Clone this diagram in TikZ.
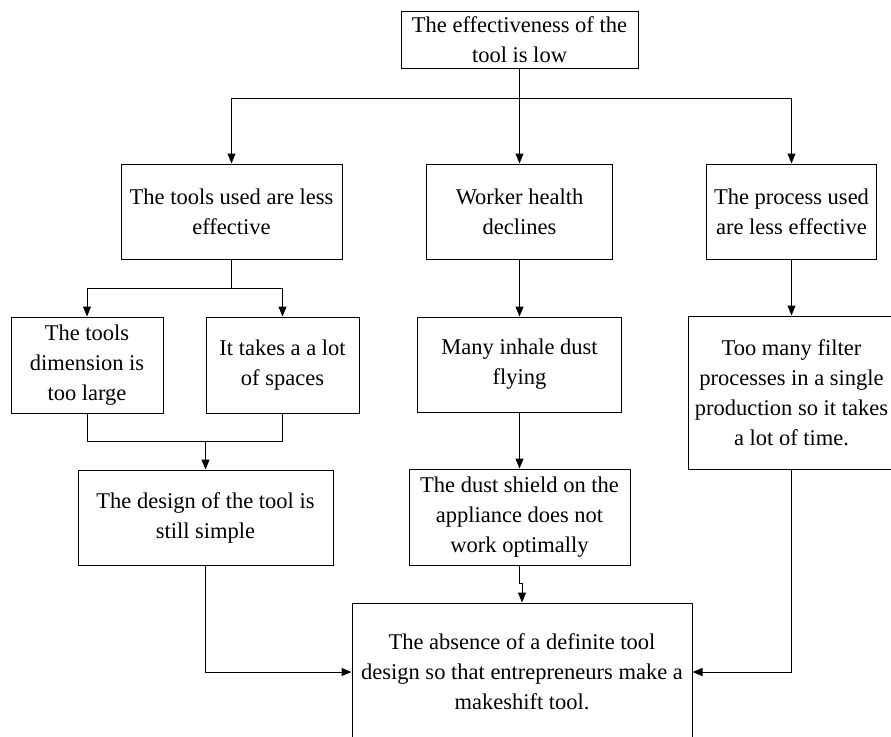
\documentclass[tikz,border=0pt]{standalone}
\usepackage{fontspec}
\setmainfont{Liberation Serif}
\usetikzlibrary{arrows.meta}
\begin{document}
\begin{tikzpicture}[x=1pt,y=-1pt,
  box/.style={draw,rectangle,line width=1pt,inner sep=0pt,align=center,
    font=\fontsize{22.5}{30}\selectfont},
  link/.style={line width=1pt},
  arr/.style={line width=1pt,-{Triangle[length=10pt,width=8pt]}}]
\useasboundingbox (0,0) rectangle (891,736);
\clip (0,0) rectangle (891,736);
\node[box,minimum width=237pt,minimum height=57pt] (top) at (519.5,39.5) {The effectiveness of the\\tool is low};
\node[box,minimum width=221pt,minimum height=95pt] (b1) at (231.5,211.5) {The tools used are less\\effective};
\node[box,minimum width=186pt,minimum height=95pt] (b2) at (519.5,211.5) {Worker health\\declines};
\node[box,minimum width=170pt,minimum height=95pt] (b3) at (791.5,211.5) {The process used\\are less effective};
\node[box,minimum width=152pt,minimum height=96pt] (b4) at (87,365) {The tools\\dimension is\\too large};
\node[box,minimum width=153pt,minimum height=96pt] (b5) at (282.5,365) {It takes a a lot\\of spaces};
\node[box,minimum width=255pt,minimum height=95pt] (b6) at (205.5,517.5) {The design of the tool is\\still simple};
\node[box,minimum width=204pt,minimum height=95pt] (b7) at (519.5,364.5) {Many inhale dust\\flying};
\node[box,minimum width=221pt,minimum height=96pt] (b8) at (519.5,517) {The dust shield on the\\appliance does not\\work optimally};
\node[box,minimum width=206pt,minimum height=153pt] (b9) at (791.5,392.5) {Too many filter\\processes in a single\\production so it takes\\a lot of time.};
\node[box,minimum width=340pt,minimum height=138pt] (b10) at (522,672) {The absence of a definite tool\\design so that entrepreneurs make a\\makeshift tool.};
\coordinate (h1) at (0,98);
\coordinate (h2) at (0,288);
\coordinate (h3) at (0,441);
\coordinate (h4) at (0,583);
% top level
\draw[arr] (top.south) -- (b2.north);
\draw[arr] (top.south |- h1) -| (b1.north);
\draw[arr] (top.south |- h1) -| (b3.north);
% left branch
\draw[link] (b1.south) -- (b1.south |- h2);
\draw[arr] (b1.south |- h2) -| (b4.north);
\draw[arr] (b1.south |- h2) -| (b5.north);
\draw[link] (b4.south) |- (b5.south |- h3) -- (b5.south);
\draw[arr] (b6.north |- h3) -- (b6.north);
\draw[arr] (b6.south) |- (b10.west);
% middle branch
\draw[arr] (b2.south) -- (b7.north);
\draw[arr] (b7.south) -- (b8.north);
\draw[arr] (b8.south) -- (b8.south |- h4) -- (b10.north |- h4) -- (b10.north);
% right branch
\draw[arr] (b3.south) -- (b9.north);
\draw[arr] (b9.south) |- (b10.east);
\end{tikzpicture}
\end{document}
